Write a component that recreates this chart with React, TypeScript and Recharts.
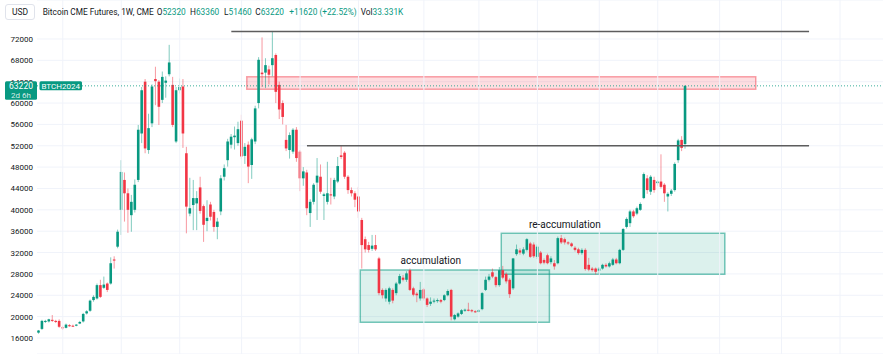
import React from 'react';
import {
  ComposedChart,
  Bar,
  XAxis,
  YAxis,
  CartesianGrid,
  ReferenceLine,
  ReferenceArea,
  ReferenceDot,
} from 'recharts';

// Each candle: [open, high, low, close] in thousands of USD (weekly bars)
type C = [number, number, number, number];

const rally2020: C[] = [
  [17.0, 17.5, 16.8, 17.4], [17.7, 19.4, 17.5, 19.2], [19.0, 19.4, 18.8, 19.2], [19.1, 19.6, 18.9, 19.5],
  [19.4, 20.3, 19.0, 19.2], [19.2, 19.4, 18.8, 19.0], [19.2, 19.5, 17.9, 18.1], [18.0, 18.3, 17.5, 17.8],
  [17.9, 18.7, 17.8, 18.5], [18.4, 18.6, 18.1, 18.2], [18.3, 18.5, 18.1, 18.2], [18.3, 18.6, 18.2, 18.5],
  [18.7, 19.2, 18.6, 19.0], [19.1, 20.7, 18.9, 20.5], [20.6, 21.2, 20.4, 21.0], [21.1, 23.2, 20.9, 23.0],
  [23.1, 24.0, 22.8, 23.7], [23.4, 26.2, 23.2, 25.9], [25.9, 26.9, 23.5, 23.7], [25.4, 27.5, 25.2, 26.0],
  [26.2, 26.4, 24.6, 25.0], [26.2, 31.1, 26.0, 30.0], [30.7, 31.3, 29.0, 30.5], [33.1, 36.3, 32.8, 35.9],
  [40.0, 49.3, 35.3, 47.1], [45.6, 47.0, 37.8, 43.1], [43.1, 44.0, 35.7, 40.0], [39.0, 42.8, 35.9, 41.5],
  [40.0, 45.7, 39.5, 44.7],
];

const peak2021: C[] = [
  [45.6, 55.9, 45.2, 55.0], [54.3, 63.0, 52.5, 62.4], [64.0, 64.5, 50.6, 51.5], [51.2, 58.0, 50.5, 55.3],
  [56.2, 63.5, 55.5, 63.1], [64.5, 66.8, 59.6, 64.1], [64.0, 64.3, 55.9, 59.3], [60.6, 65.9, 60.0, 64.9],
  [63.8, 65.0, 61.0, 64.2], [65.4, 70.9, 65.0, 67.6], [63.4, 64.9, 55.5, 55.9], [52.8, 63.0, 52.5, 62.4],
  [62.4, 64.6, 61.8, 63.0], [63.1, 64.5, 51.6, 54.3], [50.6, 51.8, 35.6, 40.6], [39.3, 46.0, 38.8, 40.3],
  [40.9, 45.6, 36.2, 42.2], [41.2, 43.5, 36.2, 42.2], [44.2, 46.2, 39.3, 39.8], [40.7, 41.0, 34.0, 37.2],
  [37.9, 41.8, 36.0, 38.5], [41.0, 41.5, 38.0, 38.7], [39.6, 40.0, 35.9, 36.8], [36.8, 38.5, 34.5, 37.8],
];

const top2021: C[] = [
  [39.7, 46.5, 39.0, 45.9], [46.2, 48.5, 45.5, 47.8], [49.3, 53.3, 48.1, 52.8], [52.2, 54.2, 51.5, 53.7],
  [53.6, 55.6, 51.3, 53.9], [52.5, 56.5, 52.0, 55.1], [56.7, 57.8, 49.5, 50.0], [50.1, 52.5, 48.6, 51.8],
  [52.2, 52.8, 45.0, 48.1], [48.4, 53.5, 45.8, 53.2], [52.8, 59.5, 52.3, 59.0], [60.0, 68.6, 59.0, 68.1],
  [65.7, 72.3, 63.0, 65.4], [65.7, 68.4, 62.8, 67.1], [66.3, 67.0, 63.5, 65.3], [67.1, 73.5, 65.0, 68.4],
  [69.0, 69.3, 60.0, 62.1], [63.4, 64.0, 57.0, 58.8], [60.0, 60.5, 56.0, 57.4], [53.1, 55.9, 51.0, 51.5],
];

const decline2022: C[] = [
  [51.2, 54.5, 49.6, 54.0], [50.9, 55.3, 50.5, 55.0], [55.0, 55.5, 49.0, 49.7], [50.9, 51.2, 43.5, 45.9],
  [45.9, 48.0, 44.5, 47.2], [47.0, 47.5, 39.0, 40.3], [39.4, 42.0, 36.8, 41.5], [41.5, 45.0, 41.0, 44.7],
  [45.1, 49.7, 38.1, 46.4], [46.2, 48.5, 43.0, 43.4], [42.6, 43.2, 38.1, 42.9], [41.5, 49.0, 41.0, 43.1],
  [42.9, 46.0, 41.0, 42.7], [42.5, 46.0, 42.0, 45.6], [45.3, 49.9, 45.0, 48.2], [50.2, 52.1, 49.5, 49.9],
  [50.7, 51.0, 45.8, 46.2], [46.2, 46.5, 43.0, 43.7], [43.7, 44.2, 42.5, 43.1], [43.1, 43.5, 40.5, 41.9],
  [42.5, 44.3, 38.5, 39.7], [38.1, 38.5, 29.0, 33.4], [34.5, 35.0, 32.0, 32.6], [33.4, 34.0, 32.0, 32.5],
  [32.7, 35.3, 32.3, 33.3], [33.4, 35.3, 32.3, 32.6],
];

const accumulation: C[] = [
  [30.9, 31.2, 24.0, 24.4], [25.0, 25.3, 23.4, 24.0], [23.4, 25.3, 22.8, 25.0], [22.8, 25.6, 22.3, 25.3],
  [25.0, 25.3, 22.5, 23.0], [24.4, 26.5, 24.0, 26.2], [26.2, 28.0, 26.0, 27.6], [27.3, 27.8, 26.6, 26.9],
  [26.9, 28.5, 26.5, 28.1], [28.7, 29.0, 24.8, 25.0], [25.3, 25.6, 23.8, 24.1], [24.3, 24.6, 22.7, 24.0],
  [23.4, 26.5, 23.0, 25.0], [25.1, 25.4, 23.0, 23.4], [23.4, 23.6, 21.8, 22.2], [22.4, 23.6, 22.0, 22.8],
  [22.8, 23.4, 22.5, 23.0], [22.9, 23.4, 22.6, 23.1], [23.1, 23.3, 22.5, 22.8], [23.1, 24.2, 22.9, 24.0],
  [24.0, 25.1, 23.8, 24.8], [25.0, 25.2, 19.3, 20.0], [19.5, 20.5, 19.3, 20.3], [20.0, 20.8, 19.8, 20.6],
  [20.5, 21.4, 20.3, 21.2], [21.1, 21.5, 20.9, 21.3], [21.3, 22.6, 21.0, 21.1], [21.2, 21.4, 20.8, 21.0],
  [21.0, 21.2, 20.7, 20.9], [20.9, 21.4, 20.8, 21.2],
];

const reaccumulation: C[] = [
  [21.4, 24.6, 21.2, 24.4], [25.0, 27.5, 24.8, 26.9], [26.9, 28.0, 26.6, 27.5], [28.3, 29.0, 27.2, 27.5],
  [27.4, 27.6, 25.5, 25.9], [25.9, 29.3, 25.6, 28.7], [28.7, 29.5, 27.0, 27.3], [28.0, 28.3, 26.2, 26.6],
  [26.9, 27.2, 23.5, 24.2], [25.3, 31.0, 25.0, 30.9], [31.7, 33.5, 31.4, 32.6], [32.4, 32.8, 31.6, 32.0],
  [31.8, 33.0, 31.5, 32.6], [32.5, 34.7, 32.2, 34.5], [33.7, 34.0, 31.0, 31.2], [33.5, 33.9, 31.0, 31.3],
  [31.2, 33.5, 30.8, 33.1], [32.0, 32.3, 29.8, 30.0], [30.6, 30.9, 29.8, 30.1], [31.5, 31.8, 29.8, 30.0],
  [30.2, 31.3, 29.8, 30.9], [30.0, 30.6, 28.8, 29.4], [30.0, 35.0, 29.8, 34.7], [34.7, 35.3, 33.6, 33.9],
  [34.5, 34.8, 33.5, 33.9], [33.9, 34.1, 33.4, 33.7], [33.7, 33.9, 33.0, 33.2], [32.9, 33.2, 32.2, 32.5],
  [32.6, 32.9, 31.6, 31.9], [31.9, 32.8, 31.6, 32.5], [32.5, 32.8, 28.6, 28.9], [29.7, 31.0, 28.5, 28.8],
  [29.0, 29.3, 28.4, 28.7], [29.0, 29.2, 27.9, 28.4], [28.6, 29.3, 27.9, 29.0], [29.0, 29.9, 28.8, 29.7],
  [29.7, 30.0, 29.2, 29.4], [29.4, 30.3, 29.2, 30.0], [29.7, 31.0, 29.5, 30.7], [30.7, 31.0, 29.8, 30.0],
  [30.0, 32.7, 29.8, 32.5],
];

const breakout2024: C[] = [
  [32.5, 36.6, 32.3, 36.4], [36.8, 38.6, 36.5, 38.3], [37.5, 40.0, 36.8, 39.7], [39.7, 40.0, 38.5, 38.8],
  [39.3, 40.6, 39.0, 40.3], [40.0, 41.4, 39.8, 41.1], [42.2, 47.0, 42.0, 46.7], [45.9, 46.5, 43.0, 43.7],
  [43.4, 46.5, 42.8, 46.2], [45.6, 46.2, 43.2, 43.7], [45.0, 45.6, 44.5, 45.3], [45.3, 50.4, 44.0, 44.3],
  [44.7, 45.0, 41.5, 43.1], [42.5, 43.3, 39.7, 43.0], [43.0, 43.9, 42.6, 43.6], [43.7, 48.9, 43.4, 48.6],
  [49.3, 53.3, 48.8, 53.0], [53.1, 53.8, 51.0, 51.6], [52.32, 63.36, 51.46, 63.22],
];

const candles: C[] = [
  ...rally2020, ...peak2021, ...top2021, ...decline2022, ...accumulation, ...reaccumulation, ...breakout2024,
];

const TOTAL_SLOTS = 246; // weekly slots visible on the time axis (incl. empty future space)
const yTicks = [16, 20, 24, 28, 32, 36, 40, 44, 48, 52, 56, 60, 64, 68, 72];
const timeGridIdx = [7, 24, 41, 59, 76, 93, 112, 128, 145, 163, 180, 198, 216, 233];

// Drawn annotations (price levels in thousands, x as bar index)
const athLevel = { from: 56, to: 224, price: 73.4 };
const breakLevel = { from: 78, to: 224, price: 52.0 };
const supplyZone = { x1: 61, x2: 208, y1: 62.58, y2: 64.94 };
const accumBox = { x1: 94, x2: 148, y1: 18.94, y2: 28.74, label: 'accumulation', lx: 114, ly: 30.6 };
const reaccumBox = { x1: 135, x2: 199, y1: 27.93, y2: 35.6, label: 're-accumulation', lx: 153, ly: 37.2 };

const symbolTitle = 'Bitcoin CME Futures, 1W, CME';
const contract = 'BTCH2024';
const countdown = '2d 6h';
const lastVolume = '33.331K';

const GREEN = '#089981';
const RED = '#f23645';
const TEXT = '#131722';
const FONT = 'Roboto, "Liberation Sans", Arial, sans-serif';

const data = Array.from({ length: TOTAL_SLOTS }, (_, i) => {
  const c = candles[i];
  return c ? { i, o: c[0], h: c[1], l: c[2], c: c[3] } : { i };
});

const last = candles[candles.length - 1];
const prevClose = candles[candles.length - 2][3];
const k = (v: number) => Math.round(v * 1000);
const change = k(last[3]) - k(prevClose);
const changePct = ((change / k(prevClose)) * 100).toFixed(2);

const Candle = (props: any) => {
  const { x, y, width, height, payload } = props;
  if (!payload || payload.o == null || !isFinite(y) || !isFinite(height)) return null;
  const { o, h, l, c } = payload;
  const top = Math.min(y, y + height);
  const hh = Math.abs(height);
  const ratio = h > l ? hh / (h - l) : 0;
  const up = c >= o;
  const color = up ? GREEN : RED;
  const bTop = top + (h - Math.max(o, c)) * ratio;
  const bBot = top + (h - Math.min(o, c)) * ratio;
  const cx = x + width / 2;
  const bw = 2.6;
  return (
    <g>
      <rect x={cx - 0.5} y={top} width={1} height={hh} fill={color} fillOpacity={0.5} />
      <rect x={cx - bw / 2} y={bTop} width={bw} height={Math.max(1, bBot - bTop)} fill={color} />
    </g>
  );
};

// Y-axis tick: the tick lying behind the last-price label is clipped at the label's top edge,
// as the price label covers most of it in the original.
const YTick = (props: any) => {
  const { x, y, payload } = props;
  const v = payload?.value;
  const covered = Math.abs(v - last[3]) < 1.5;
  return (
    <g>
      {covered && (
        <defs>
          <clipPath id="tickclip">
            <rect x={0} y={y - 10} width={40} height={9.8} />
          </clipPath>
        </defs>
      )}
      <text
        x={x}
        y={y}
        dy={3}
        textAnchor="end"
        fontSize={8}
        fill={TEXT}
        fontFamily={FONT}
        clipPath={covered ? 'url(#tickclip)' : undefined}
      >
        {String(k(v))}
      </text>
    </g>
  );
};

const PriceLabel = (props: any) => {
  const vb = props.viewBox || {};
  const yy = vb.y;
  const left = vb.x;
  if (yy == null) return null;
  return (
    <g fontFamily={FONT}>
      <rect x={5} y={yy - 4.5} width={32} height={18.5} rx={1.5} fill={GREEN} />
      <text x={21} y={yy + 3} textAnchor="middle" fontSize={8.5} fill="#fff">
        {k(last[3])}
      </text>
      <text x={21} y={yy + 12} textAnchor="middle" fontSize={8} fill="#fff" fillOpacity={0.85}>
        {countdown}
      </text>
      <rect x={left + 2.5} y={yy - 4.5} width={42.5} height={9} rx={1.5} fill={GREEN} />
      <text x={left + 23.7} y={yy + 3} textAnchor="middle" fontSize={8} fill="#fff">
        {contract}
      </text>
    </g>
  );
};

const boxText = (text: string) => (p: any) => {
  const vb = p.viewBox || {};
  const cx = vb.cx != null ? vb.cx : vb.x + (vb.width || 0) / 2;
  const cy = vb.cy != null ? vb.cy : vb.y + (vb.height || 0) / 2;
  return (
    <text x={cx} y={cy + 3.5} textAnchor="middle" fontSize={10} fill={TEXT} fontFamily={FONT}>
      {text}
    </text>
  );
};

const headerItem = (left: number, label: string, value: string) => (
  <div style={{ position: 'absolute', left, top: 7, fontSize: 8.3, lineHeight: '11px', whiteSpace: 'nowrap' }}>
    <span style={{ color: TEXT }}>{label}</span>
    <span style={{ color: GREEN }}>{value}</span>
  </div>
);

export default function App() {
  return (
    <div
      style={{
        position: 'absolute',
        left: 0,
        top: 0,
        width: 883,
        height: 354,
        background: '#fff',
        overflow: 'hidden',
        fontFamily: FONT,
      }}
    >
      <ComposedChart
        width={883}
        height={354}
        data={data}
        margin={{ top: 0, right: 0, bottom: 0, left: 0 }}
        barCategoryGap={0}
      >
        <CartesianGrid vertical={false} stroke="#f0f3fa" />
        <XAxis dataKey="i" type="category" hide />
        <YAxis
          type="number"
          domain={[13.0, 79.3]}
          allowDataOverflow
          ticks={yTicks}
          interval={0}
          width={37}
          tickSize={0}
          tickMargin={4}
          axisLine={false}
          tickLine={false}
          tick={(p: any) => <YTick {...p} />}
        />
        {timeGridIdx.map((gi) => (
          <ReferenceLine key={gi} x={gi} stroke="#f0f3fa" strokeWidth={1} />
        ))}
        <ReferenceArea
          x1={accumBox.x1}
          x2={accumBox.x2}
          y1={accumBox.y1}
          y2={accumBox.y2}
          fill={GREEN}
          fillOpacity={0.14}
          stroke={GREEN}
          strokeOpacity={0.55}
          strokeWidth={1.5}
        />
        <ReferenceArea
          x1={reaccumBox.x1}
          x2={reaccumBox.x2}
          y1={reaccumBox.y1}
          y2={reaccumBox.y2}
          fill={GREEN}
          fillOpacity={0.14}
          stroke={GREEN}
          strokeOpacity={0.55}
          strokeWidth={1.5}
        />
        <ReferenceArea
          x1={supplyZone.x1}
          x2={supplyZone.x2}
          y1={supplyZone.y1}
          y2={supplyZone.y2}
          fill={RED}
          fillOpacity={0.17}
          stroke={RED}
          strokeOpacity={0.45}
          strokeWidth={1.5}
        />
        <Bar
          dataKey={(d: any) => (d.o == null ? null : [d.l, d.h])}
          shape={(p: any) => <Candle {...p} />}
          isAnimationActive={false}
        />
        <ReferenceLine
          segment={[
            { x: athLevel.from, y: athLevel.price },
            { x: athLevel.to, y: athLevel.price },
          ]}
          stroke="#5d5d5d"
          strokeWidth={1.5}
        />
        <ReferenceLine
          segment={[
            { x: breakLevel.from, y: breakLevel.price },
            { x: breakLevel.to, y: breakLevel.price },
          ]}
          stroke="#5d5d5d"
          strokeWidth={1.5}
        />
        <ReferenceDot
          x={accumBox.lx}
          y={accumBox.ly}
          r={0}
          fill="none"
          stroke="none"
          label={boxText(accumBox.label)}
        />
        <ReferenceDot
          x={reaccumBox.lx}
          y={reaccumBox.ly}
          r={0}
          fill="none"
          stroke="none"
          label={boxText(reaccumBox.label)}
        />
        <ReferenceLine
          y={last[3]}
          stroke={GREEN}
          strokeOpacity={0.8}
          strokeDasharray="1 2"
          label={(p: any) => <PriceLabel {...p} />}
        />
      </ComposedChart>

      <div
        style={{
          position: 'absolute',
          left: 5,
          top: 4,
          width: 30,
          height: 16,
          boxSizing: 'border-box',
          border: '1px solid #e0e3eb',
          borderRadius: 3,
          background: '#fff',
          fontSize: 8.5,
          lineHeight: '14px',
          textAlign: 'center',
          color: TEXT,
        }}
      >
        USD
      </div>
      <div style={{ position: 'absolute', left: 42.7, top: 7, fontSize: 8.3, lineHeight: '11px', color: TEXT, whiteSpace: 'nowrap' }}>
        {symbolTitle}
      </div>
      {headerItem(156.7, 'O', String(k(last[0])))}
      {headerItem(190, 'H', String(k(last[1])))}
      {headerItem(224, 'L', String(k(last[2])))}
      {headerItem(255.3, 'C', String(k(last[3])))}
      {headerItem(289.3, '', `+${change} (+${changePct}%)`)}
      {headerItem(360.7, 'Vol', lastVolume)}
    </div>
  );
}
